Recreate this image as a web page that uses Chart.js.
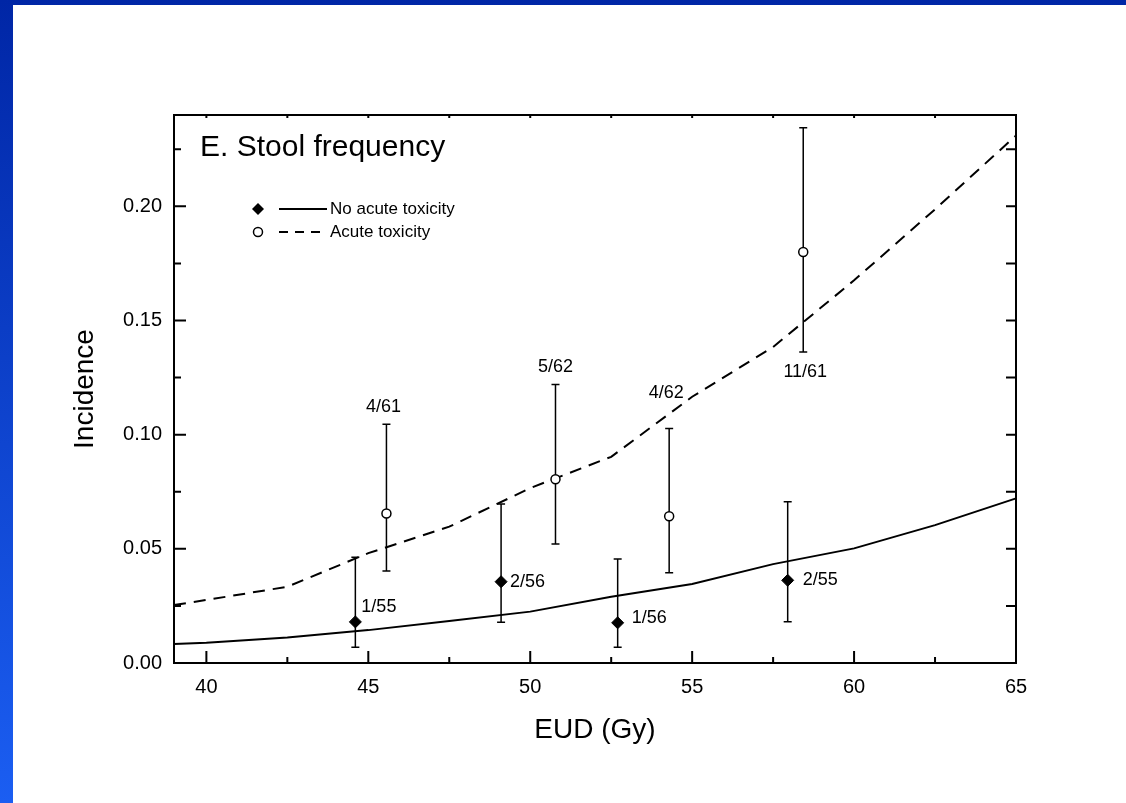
<!DOCTYPE html>
<html>
<head>
<meta charset="utf-8">
<script src="https://cdn.jsdelivr.net/npm/chart.js@4.4.1/dist/chart.umd.min.js"></script>
<style>
  html, body { margin: 0; padding: 0; }
  body { width: 1126px; height: 803px; position: relative; overflow: hidden;
         background: linear-gradient(to bottom, #0026a6, #1b5ef2); }
  #paper { position: absolute; left: 13px; top: 5px; right: 0; bottom: 0; background: #fff; }
  #wrap { position: absolute; left: 0; top: 0; width: 1126px; height: 803px; }
</style>
</head>
<body>
<div id="paper"></div>
<div id="wrap"><canvas id="myChart" width="1126" height="803"></canvas></div>
<script>
let eudNo = [44.6, 49.1, 52.7, 57.95];
let incNo = [0.018, 0.0356, 0.0176, 0.0362];
let lowNo = [0.0069, 0.0178, 0.0069, 0.0181];
let highNo = [0.0463, 0.0696, 0.0455, 0.0706];
let labelsNo = ['1/55', '2/56', '1/56', '2/55'];

let eudAcute = [45.56, 50.78, 54.29, 58.43];
let incAcute = [0.0655, 0.0805, 0.0643, 0.180];
let lowAcute = [0.0403, 0.0521, 0.0395, 0.1362];
let highAcute = [0.1046, 0.122, 0.1027, 0.2344];
let labelsAcute = ['4/61', '5/62', '4/62', '11/61'];

let curveX = [39, 40, 42.5, 45, 47.5, 50, 52.5, 55, 57.5, 60, 62.5, 65];
let curveNo = [0.0083, 0.0089, 0.0112, 0.0144, 0.0184, 0.0225, 0.029, 0.0346, 0.0433, 0.0502, 0.0604, 0.0721];
let curveAcute = [0.0254, 0.0276, 0.0334, 0.0481, 0.0597, 0.0766, 0.0903, 0.1166, 0.1384, 0.1676, 0.1987, 0.231];

let xTicks = [40, 45, 50, 55, 60, 65];
let xMinor = [42.5, 47.5, 52.5, 57.5, 62.5];
let yTicks = [0, 0.05, 0.10, 0.15, 0.20];
let yMinor = [0.025, 0.075, 0.125, 0.175, 0.225];

const FONT = 'Liberation Sans, Arial, sans-serif';

// label placement relative to the point / error bar (pixels)
let noLabelOffsets = [[6, -15], [9, 0], [14, -5], [15, 0]];
let acuteLabelPos = [['top', -3, -17], ['top', 0, -17], ['top', -3, -35], ['bottom', 2, 20]];

function toXY(xs, ys) {
  return xs.map((v, i) => ({x: v, y: ys[i]}));
}

const errorBars = {
  id: 'errorBars',
  beforeDatasetsDraw(chart) {
    const {ctx, scales: {x, y}} = chart;
    ctx.save();
    ctx.strokeStyle = '#000';
    ctx.lineWidth = 1.5;
    const draw = (xs, lo, hi) => {
      xs.forEach((v, i) => {
        const px = x.getPixelForValue(v);
        const p1 = y.getPixelForValue(lo[i]);
        const p2 = y.getPixelForValue(hi[i]);
        ctx.beginPath();
        ctx.moveTo(px, p1); ctx.lineTo(px, p2);
        ctx.moveTo(px - 4, p1); ctx.lineTo(px + 4, p1);
        ctx.moveTo(px - 4, p2); ctx.lineTo(px + 4, p2);
        ctx.stroke();
      });
    };
    draw(eudNo, lowNo, highNo);
    draw(eudAcute, lowAcute, highAcute);
    ctx.restore();
  }
};

const frame = {
  id: 'frame',
  afterDatasetsDraw(chart) {
    const {ctx, chartArea: a, scales: {x, y}} = chart;
    ctx.save();
    ctx.strokeStyle = '#000';
    ctx.lineWidth = 2;
    ctx.strokeRect(a.left, a.top, a.right - a.left, a.bottom - a.top);
    ctx.beginPath();
    xTicks.forEach(v => {
      const px = x.getPixelForValue(v);
      ctx.moveTo(px, a.bottom); ctx.lineTo(px, a.bottom - 12);
    });
    xMinor.forEach(v => {
      const px = x.getPixelForValue(v);
      ctx.moveTo(px, a.bottom); ctx.lineTo(px, a.bottom - 6);
    });
    xTicks.concat(xMinor).forEach(v => {
      const px = x.getPixelForValue(v);
      ctx.moveTo(px, a.top); ctx.lineTo(px, a.top + 3);
    });
    yTicks.forEach(v => {
      const py = y.getPixelForValue(v);
      ctx.moveTo(a.left, py); ctx.lineTo(a.left + 12, py);
    });
    yMinor.forEach(v => {
      const py = y.getPixelForValue(v);
      ctx.moveTo(a.left, py); ctx.lineTo(a.left + 7, py);
    });
    yTicks.concat(yMinor).forEach(v => {
      const py = y.getPixelForValue(v);
      ctx.moveTo(a.right, py); ctx.lineTo(a.right - 10, py);
    });
    ctx.stroke();
    ctx.restore();
  }
};

const annotations = {
  id: 'annotations',
  afterDraw(chart) {
    const {ctx, chartArea: a, scales: {x, y}} = chart;
    ctx.save();
    ctx.fillStyle = '#000';
    ctx.strokeStyle = '#000';

    // panel title
    ctx.font = '30px ' + FONT;
    ctx.textAlign = 'left';
    ctx.textBaseline = 'middle';
    ctx.fillText('E. Stool frequency', a.left + 26, a.top + 33);

    // point labels
    ctx.font = '18px ' + FONT;
    eudNo.forEach((v, i) => {
      const px = x.getPixelForValue(v), py = y.getPixelForValue(incNo[i]);
      ctx.textAlign = 'left';
      ctx.fillText(labelsNo[i], px + noLabelOffsets[i][0], py + noLabelOffsets[i][1]);
    });
    eudAcute.forEach((v, i) => {
      const px = x.getPixelForValue(v);
      const [end, dx, dy] = acuteLabelPos[i];
      const py = y.getPixelForValue(end === 'top' ? highAcute[i] : lowAcute[i]);
      ctx.textAlign = 'center';
      ctx.fillText(labelsAcute[i], px + dx, py + dy);
    });

    // legend
    const lx = a.left + 84, ly = a.top + 94, row = 23;
    const ds = chart.data.datasets;
    ctx.font = '17px ' + FONT;
    ctx.textAlign = 'left';
    // row 1: diamond + solid
    ctx.beginPath();
    ctx.moveTo(lx, ly - 6); ctx.lineTo(lx + 6, ly); ctx.lineTo(lx, ly + 6); ctx.lineTo(lx - 6, ly);
    ctx.closePath(); ctx.fill();
    ctx.lineWidth = 2;
    ctx.beginPath(); ctx.moveTo(lx + 21, ly); ctx.lineTo(lx + 69, ly); ctx.stroke();
    ctx.fillText(ds[0].label, lx + 72, ly);
    // row 2: circle + dashed
    ctx.lineWidth = 1.5;
    ctx.beginPath(); ctx.arc(lx, ly + row, 4.5, 0, Math.PI * 2);
    ctx.fillStyle = '#fff'; ctx.fill(); ctx.stroke();
    ctx.fillStyle = '#000';
    ctx.lineWidth = 2;
    ctx.setLineDash([9, 7]);
    ctx.beginPath(); ctx.moveTo(lx + 21, ly + row); ctx.lineTo(lx + 69, ly + row); ctx.stroke();
    ctx.setLineDash([]);
    ctx.fillText(ds[1].label, lx + 72, ly + row);
    ctx.restore();
  }
};

let mychart = document.getElementById('myChart');

let chart = new Chart(mychart, {
  type: 'scatter',
  data: {
    datasets: [
      {
        label: 'No acute toxicity',
        data: toXY(eudNo, incNo),
        pointStyle: 'rectRot',
        pointRadius: 6,
        backgroundColor: '#000',
        borderColor: '#000',
        borderWidth: 1
      },
      {
        label: 'Acute toxicity',
        data: toXY(eudAcute, incAcute),
        pointStyle: 'circle',
        pointRadius: 4.5,
        backgroundColor: '#fff',
        borderColor: '#000',
        borderWidth: 1.5
      },
      {
        label: 'fitNo',
        data: toXY(curveX, curveNo),
        showLine: true,
        pointRadius: 0,
        borderColor: '#000',
        borderWidth: 2,
        tension: 0
      },
      {
        label: 'fitAcute',
        data: toXY(curveX, curveAcute),
        showLine: true,
        pointRadius: 0,
        borderColor: '#000',
        borderWidth: 2,
        borderDash: [12, 8],
        tension: 0
      }
    ]
  },
  options: {
    responsive: false,
    animation: false,
    clip: false,
    layout: { padding: { left: 64, top: 115, right: 110, bottom: 52 } },
    plugins: {
      legend: { display: false },
      tooltip: { enabled: false }
    },
    scales: {
      x: {
        type: 'linear',
        min: 39,
        max: 65,
        grid: { display: false },
        border: { display: false },
        afterBuildTicks: s => { s.ticks = xTicks.map(v => ({value: v})); },
        afterFit: s => { s.height = 88; },
        ticks: { color: '#000', padding: 4, font: { family: FONT, size: 20 } },
        title: { display: true, text: 'EUD (Gy)', color: '#000', font: { family: FONT, size: 28 } }
      },
      y: {
        type: 'linear',
        min: 0,
        max: 0.24,
        grid: { display: false },
        border: { display: false },
        afterBuildTicks: s => { s.ticks = yTicks.map(v => ({value: v})); },
        afterFit: s => { s.width = 110; },
        ticks: { color: '#000', padding: 4, font: { family: FONT, size: 20 },
                 callback: v => v.toFixed(2) },
        title: { display: true, text: 'Incidence', color: '#000', font: { family: FONT, size: 28 } }
      }
    }
  },
  plugins: [errorBars, frame, annotations]
});
</script>
</body>
</html>
